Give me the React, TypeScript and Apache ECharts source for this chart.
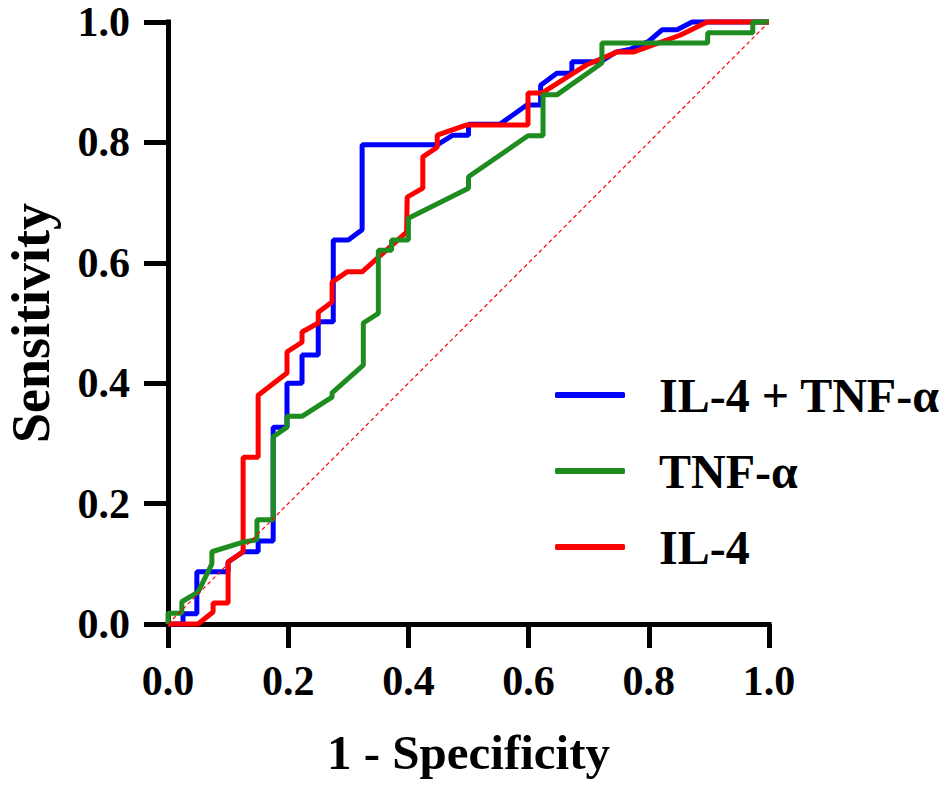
import React, { useEffect, useRef } from "react";
import * as echarts from "echarts";

const xTicks = [0, 0.2, 0.4, 0.6, 0.8, 1.0];

const comboName = "IL-4 + TNF-α";
const tnfName = "TNF-α";
const il4Name = "IL-4";

const comboRoc: [number, number][] = [
  [0, 0], [0.025, 0], [0.025, 0.017], [0.048, 0.017], [0.048, 0.087], [0.1, 0.087],
  [0.1, 0.103], [0.125, 0.12], [0.15, 0.12], [0.15, 0.138], [0.175, 0.138],
  [0.175, 0.327], [0.198, 0.327], [0.198, 0.4], [0.223, 0.4], [0.223, 0.447],
  [0.25, 0.447], [0.25, 0.502], [0.275, 0.502], [0.275, 0.638], [0.3, 0.638],
  [0.323, 0.655], [0.323, 0.796], [0.448, 0.796], [0.474, 0.812], [0.5, 0.812],
  [0.5, 0.83], [0.552, 0.83], [0.597, 0.862], [0.62, 0.862], [0.62, 0.895],
  [0.647, 0.915], [0.672, 0.915], [0.672, 0.934], [0.72, 0.934], [0.745, 0.95],
  [0.77, 0.955], [0.8, 0.968], [0.822, 0.987], [0.847, 0.987], [0.872, 1], [1, 1],
];

const tnfRoc: [number, number][] = [
  [0, 0], [0, 0.018], [0.023, 0.018], [0.023, 0.037], [0.05, 0.053], [0.073, 0.1],
  [0.073, 0.12], [0.125, 0.136], [0.148, 0.14], [0.148, 0.173], [0.175, 0.173],
  [0.175, 0.311], [0.198, 0.327], [0.198, 0.345], [0.223, 0.345], [0.273, 0.377],
  [0.273, 0.384], [0.325, 0.43], [0.325, 0.5], [0.35, 0.516], [0.35, 0.621],
  [0.372, 0.621], [0.372, 0.638], [0.4, 0.638], [0.4, 0.674], [0.5, 0.724],
  [0.5, 0.743], [0.599, 0.811], [0.624, 0.811], [0.624, 0.879], [0.647, 0.879],
  [0.722, 0.932], [0.722, 0.965], [0.898, 0.965], [0.898, 0.982], [0.973, 0.982],
  [0.973, 1], [1, 1],
];

const il4Roc: [number, number][] = [
  [0, 0], [0.05, 0], [0.075, 0.02], [0.075, 0.035], [0.1, 0.035], [0.1, 0.103],
  [0.125, 0.12], [0.125, 0.277], [0.15, 0.277], [0.15, 0.38], [0.198, 0.417],
  [0.198, 0.452], [0.223, 0.468], [0.223, 0.485], [0.25, 0.5], [0.25, 0.518],
  [0.273, 0.535], [0.273, 0.568], [0.298, 0.585], [0.323, 0.585], [0.397, 0.651],
  [0.398, 0.709], [0.424, 0.724], [0.424, 0.776], [0.448, 0.792], [0.448, 0.812],
  [0.497, 0.829], [0.599, 0.829], [0.599, 0.882], [0.622, 0.882], [0.697, 0.929],
  [0.747, 0.95], [0.774, 0.95], [0.852, 0.978], [0.897, 1], [1, 1],
];

const refLine: [number, number][] = [[0, 0], [1, 1]];

const FONT = '"Liberation Serif", "Times New Roman", serif';

export default function App() {
  const ref = useRef<HTMLDivElement>(null);
  useEffect(() => {
    if (!ref.current) return;
    const chart = echarts.init(ref.current, undefined, { renderer: "svg" });
    const axisCommon = {
      type: "value" as const,
      min: xTicks[0],
      max: xTicks[xTicks.length - 1],
      interval: 0.2,
      splitLine: { show: false },
      axisLine: { show: true, lineStyle: { color: "#000", width: 5, cap: "square" } },
      axisTick: { show: true, length: 24, lineStyle: { color: "#000", width: 5 } },
      axisLabel: {
        color: "#000",
        fontFamily: FONT,
        fontWeight: "bold",
        fontSize: 42,
        margin: 36,
        formatter: (v: number) => v.toFixed(1),
      },
    };
    chart.setOption({
      animation: false,
      backgroundColor: "#fff",
      grid: {
        left: 168,
        right: 177,
        top: 22,
        bottom: 168,
        containLabel: false,
        outerBoundsMode: "none",
      },
      xAxis: {
        ...axisCommon,
        name: "1 - Specificity",
        nameLocation: "middle",
        nameGap: 104,
        nameTextStyle: { color: "#000", fontFamily: FONT, fontWeight: "bold", fontSize: 49 },
      },
      yAxis: {
        ...axisCommon,
        axisLabel: { ...axisCommon.axisLabel, margin: 38 },
        name: "Sensitivity",
        nameLocation: "middle",
        nameGap: 110,
        nameTextStyle: { color: "#000", fontFamily: FONT, fontWeight: "bold", fontSize: 54 },
      },
      legend: {
        data: [comboName, tnfName, il4Name],
        orient: "vertical",
        left: 555,
        top: 367,
        padding: 0,
        align: "left",
        icon: "roundRect",
        itemWidth: 70,
        itemHeight: 6,
        itemGap: 20,
        textStyle: {
          color: "#000",
          fontFamily: FONT,
          fontWeight: "bold",
          fontSize: 48,
          lineHeight: 56,
          padding: [0, 0, 0, 29],
        },
      },
      series: [
        {
          name: comboName,
          type: "line",
          data: comboRoc,
          symbol: "none",
          clip: false,
          z: 2,
          color: "#0000ff",
          lineStyle: { width: 5, color: "#0000ff" },
        },
        {
          name: tnfName,
          type: "line",
          data: tnfRoc,
          symbol: "none",
          clip: false,
          z: 4,
          color: "#1f8c1f",
          lineStyle: { width: 5, color: "#1f8c1f" },
        },
        {
          name: il4Name,
          type: "line",
          data: il4Roc,
          symbol: "none",
          clip: false,
          z: 3,
          color: "#ff0000",
          lineStyle: { width: 5, color: "#ff0000" },
        },
        {
          name: "Reference",
          type: "line",
          data: refLine,
          symbol: "none",
          silent: true,
          z: 5,
          lineStyle: { width: 1.2, color: "#ff0000", type: [4, 3] },
        },
      ],
    });
    return () => chart.dispose();
  }, []);
  return (
    <div
      ref={ref}
      style={{ position: "fixed", left: 0, top: 0, width: 946, height: 792, background: "#fff" }}
    />
  );
}
